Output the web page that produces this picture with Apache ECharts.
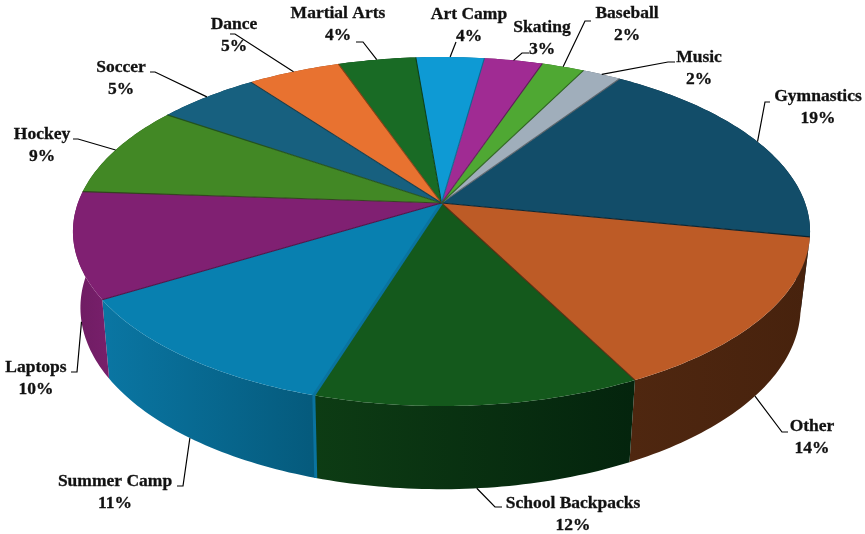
<!DOCTYPE html>
<html>
<head>
<meta charset="utf-8">
<style>html,body{margin:0;padding:0;background:#fff}#c{width:865px;height:534px}</style>
<script src="https://cdn.jsdelivr.net/npm/echarts@6/dist/echarts.min.js"></script>
</head>
<body>
<div id="c"></div>
<script>
var categories = ['Gymnastics','Other','School Backpacks','Summer Camp','Laptops','Hockey','Soccer','Dance','Martial Arts','Art Camp','Skating','Baseball','Music'];
// shares; the printed labels are these values rounded
var shares = [18.7,14.4,12.3,11.49,9.8,8.51,5.3,4.8,4.0,3.5,3.0,2.2,2.0];

var topColors = ['#124d69','#bd5b26','#14591c','#0880b0','#802072','#428825','#17607f','#e87230','#196b25','#0e9ad4','#a02b93','#4fa833','#a0aebb'];
var edgeColors = ['#06222f','#5a2a10','#0c3a12','#4a1142','#33401f','#24521a','#0d3a4d','#8a4016','#0e3d15','#0a6a92','#5f1a58','#2d6320','#5c646c'];
var sideColors = [
  ['#0a2c3c','#0a2c3c'],['#4f2710','#47220d'],['#0d3c14','#04240d'],['#0a76a3','#055a7c'],
  ['#6e1c62','#781f6b'],['#2a5a18','#2a5a18'],['#0e3e52','#0e3e52'],['#8a4016','#8a4016'],
  ['#0e3d15','#0e3d15'],['#0a6a92','#0a6a92'],['#5f1a58','#5f1a58'],['#2d6320','#2d6320'],['#5c646c','#5c646c']
];

// label layout: [centre x, first line y, elbow x, elbow y, tail x]
var labelLayout = [
  [818,96,765,102,770],[812,426,782,432,788],[573,503,495,507,502],[115,481,183,486,177],
  [36,367,77,372,71],[42,134,78,139,73],[121,67,155,72,150],[234,24,235,34,230],
  [338,13,363,42,356],[469,14,456,42,456],[542,27,522,53,529],[627,13,585,21,591],[699,57,668,62,675]
];

// projection of the tilted disc
var CX = 441.5, CY = 203, RX = 363.6, RY = 169.9, K = 0.1634, START = 56.2;
var SX = 0.977, SY = 1.04, BOTTOM_CX = 440.5, BOTTOM_CY = 278;
function rimTop(deg){
  var t = deg*Math.PI/180, x = Math.cos(t), y = Math.sin(t), d = 1 + K*y;
  return [CX + RX*x/d, CY - RY*y/d];
}
function rimBottom(deg){
  var p = rimTop(deg);
  return [BOTTOM_CX + SX*(p[0]-CX), BOTTOM_CY + SY*(p[1]-CY)];
}
function arc(fn, a0, a1){
  var n = Math.max(2, Math.ceil(Math.abs(a1-a0))), pts = [];
  for (var i=0;i<=n;i++) pts.push(fn(a0+(a1-a0)*i/n));
  return pts;
}
var total = shares.reduce(function(a,b){return a+b;},0);

function renderItem(params, api){
  var i = params.dataIndex, before = 0;
  for (var j=0;j<i;j++) before += shares[j];
  var v = api.value(0);
  var a0 = START - before/total*360, a1 = a0 - v/total*360, mid = (a0+a1)/2;
  var children = [];
  // side wall
  var topArc = arc(rimTop,a0,a1), botArc = arc(rimBottom,a0,a1).reverse();
  var sc = sideColors[i];
  children.push({type:'polygon', z2:1, shape:{points:topArc.concat(botArc)},
    style:{fill:new echarts.graphic.LinearGradient(0,0,1,0,[{offset:0,color:sc[0]},{offset:1,color:sc[1]}]),stroke:null}});
  // top face
  children.push({type:'polygon', z2:2, shape:{points:[[CX,CY]].concat(topArc)},
    style:{fill:topColors[i],stroke:null}});
  // dark bevel on the trailing radius
  children.push({type:'line', z2:3, shape:{x1:CX,y1:CY,x2:rimTop(a0)[0],y2:rimTop(a0)[1]},
    style:{stroke:edgeColors[(i+12)%13],lineWidth:1.1,opacity:0.95}});
  if (categories[i]==='Summer Camp'){
    var pt = rimTop(a0), pb = rimBottom(a0);
    children.push({type:'line', z2:3, shape:{x1:CX,y1:CY,x2:pt[0],y2:pt[1]},style:{stroke:'#0a73a0',lineWidth:3}});
    children.push({type:'line', z2:3, shape:{x1:pt[0],y1:pt[1],x2:pb[0],y2:pb[1]},style:{stroke:'#0a73a0',lineWidth:3}});
  }
  // leader line
  var L = labelLayout[i];
  var front = Math.sin(mid*Math.PI/180) < -0.2;
  var s = front ? rimBottom(mid) : rimTop(mid);
  children.push({type:'polyline', z2:5, shape:{points:[s,[L[2],L[3]],[L[4],L[3]]]},
    style:{stroke:'#000',lineWidth:1.2,fill:null}});
  // label
  var font = 'bold 17.5px "Liberation Serif", serif';
  children.push({type:'text', z2:6, style:{x:L[0],y:L[1],text:categories[i],font:font,fill:'#111',stroke:'#111',lineWidth:0.3,textAlign:'center',textVerticalAlign:'middle'}});
  children.push({type:'text', z2:6, style:{x:L[0],y:L[1]+22,text:Math.round(v)+'%',font:font,fill:'#111',stroke:'#111',lineWidth:0.3,textAlign:'center',textVerticalAlign:'middle'}});
  return {type:'group',children:children};
}

var chart = echarts.init(document.getElementById('c'),null,{renderer:'canvas'});
chart.setOption({
  animation:false,
  backgroundColor:'#fff',
  series:[{
    type:'custom',
    coordinateSystem:'none',
    renderItem:renderItem,
    data:shares.map(function(v,i){return {name:categories[i],value:[v]};}),
    silent:true
  }]
});
</script>
</body>
</html>
